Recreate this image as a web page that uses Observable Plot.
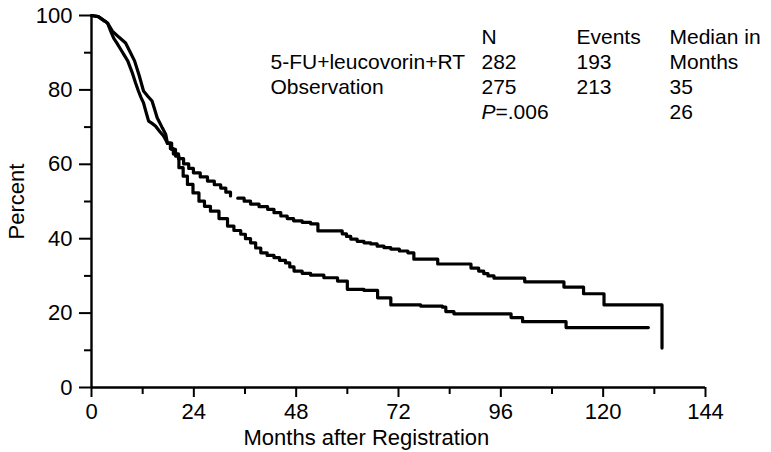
<!DOCTYPE html>
<html>
<head>
<meta charset="utf-8">
<script src="https://cdn.jsdelivr.net/npm/d3@7"></script>
<script src="https://cdn.jsdelivr.net/npm/@observablehq/plot@0.6"></script>
<style>
html, body { margin: 0; padding: 0; background: #fff; }
#chart { width: 771px; height: 452px; }
</style>
</head>
<body>
<div id="chart"></div>
<script>
// Kaplan-Meier curves: [months, percent]; null marks a break in the drawn line
const crtCurve = [
  [0,100],[1.6,99.7],[3.1,98.5],[3.8,97.9],[4.5,95.8],[5.2,93.9],[6.0,92.5],[6.8,91.0],[7.6,89.5],
  [8.5,87.8],[9.1,86.0],[9.6,84.5],[10.3,82.0],[11.0,79.7],[11.6,78.0],[12.2,76.5],[12.8,74.0],
  [13.4,71.6],[14.2,71.0],[15.0,70.3],[16.0,68.8],[16.9,67.6],[17.8,65.7],[18.5,64.2],[19.2,62.8],
  [20.4,61.5],[21.6,60.1],[22.8,58.9],[23.9,57.7],[25.5,56.6],[27.2,55.5],[28.8,54.5],[30.3,53.6],
  [31.5,52.5],[32.6,51.5],[null,null],[34.3,50.9],[35.8,50.1],[37.3,49.3],[39.3,48.6],[41.3,47.9],
  [42.8,47.0],[44.4,46.1],[45.9,45.4],[47.4,44.8],[49.4,44.4],[51.4,44.0],[53.1,42.1],[57.7,42.1],
  [58.8,41.3],[59.8,40.6],[60.8,39.9],[62.3,39.3],[63.9,38.9],[65.5,38.6],[67.0,38.0],[68.6,37.6],
  [70.2,37.2],[72.2,36.7],[74.2,36.2],[75.6,34.5],[81.2,33.2],[89.0,32.1],[90.8,31.3],[92.0,30.6],
  [93.0,30.0],[94.4,29.4],[101.6,28.4],[110.8,27.0],[115.4,25.2],[120.2,22.2],[133.8,10.6]
];
const obsCurve = [
  [0,100],[1.6,99.7],[3.1,98.5],[3.8,97.9],[4.9,95.8],[6.4,94.2],[8.0,92.6],[9.0,90.3],[10.1,87.8],
  [11.2,83.8],[12.2,79.7],[13.2,78.3],[14.2,77.0],[14.8,74.8],[15.4,72.5],[16.0,71.2],[16.6,69.8],
  [17.4,68.1],[17.8,65.7],[18.8,64.0],[19.7,62.2],[20.5,59.1],[21.5,56.8],[22.5,54.6],[23.8,52.3],
  [25.2,50.1],[26.5,48.7],[27.9,47.4],[29.9,45.4],[31.9,43.4],[33.4,42.2],[35.0,41.2],[36.1,40.0],
  [37.3,38.9],[38.5,37.5],[39.7,36.2],[41.2,35.5],[42.8,34.9],[44.1,34.2],[45.5,33.5],[46.5,32.4],
  [47.5,31.3],[49.4,30.7],[51.4,30.2],[54.5,29.5],[57.7,28.6],[60.0,26.4],[63.9,26.1],[67.1,24.1],
  [70.2,22.2],[77.2,21.9],[82.3,21.6],[83.1,20.4],[85.0,19.8],[98.4,18.8],[101.1,17.7],[111.3,16.1],
  [130.6,16.1]
];
// the steep first months are drawn as a continuous trace, the rest as steps
const earlyEnd = 17.8;

const xMajorTicks = [0, 24, 48, 72, 96, 120, 144];
const xMinorTicks = [12, 36, 60, 84, 108, 132];
const yMajorTicks = [0, 20, 40, 60, 80, 100];
const yMinorTicks = [10, 30, 50, 70, 90];

const xTitle = "Months after Registration";
const yTitle = "Percent";

const legendHeader = ["N", "Events", "Median in"];
const groupNames = ["5-FU+leucovorin+RT", "Observation"];
const groupN = ["282", "275"];
const groupEvents = ["193", "213"];
const medianColumn = ["Months", "35", "26"];
const pLabel = "P";
const pValue = "=.006";

// ---- layout (screen pixels) ----
const W = 771, H = 452;
const mL = 91, mR = 66, mT = 15, mB = 65;
const font = "'Liberation Sans', Arial, Helvetica, sans-serif";
const colX = [270, 481, 576, 669];
const rowY = [37, 62, 87, 112];

const toRows = c => c.map(([m, p]) => ({m, p}));
const early = c => toRows(c.filter(([m]) => m !== null && m <= earlyEnd));
const late = c => toRows(c.filter(([m], i) => m === null || m >= earlyEnd));

const cells = [];
legendHeader.forEach((t, i) => cells.push({t, c: i + 1, r: 0}));
groupNames.forEach((g, i) => {
  cells.push({t: g, c: 0, r: i + 1});
  cells.push({t: groupN[i], c: 1, r: i + 1});
  cells.push({t: groupEvents[i], c: 2, r: i + 1});
});
medianColumn.forEach((t, i) => cells.push({t, c: 3, r: i + 1}));

const legendMarks = cells.map(c => Plot.text([c.t], {
  text: d => d, frameAnchor: "top-left", dx: colX[c.c] - mL, dy: rowY[c.r] - mT,
  textAnchor: "start", lineAnchor: "middle", fontSize: 21
}));
legendMarks.push(Plot.text([pLabel], {
  text: d => d, frameAnchor: "top-left", dx: colX[1] - mL, dy: rowY[3] - mT,
  textAnchor: "start", lineAnchor: "middle", fontSize: 21, fontStyle: "italic"
}));
legendMarks.push(Plot.text([pValue], {
  text: d => d, frameAnchor: "top-left", dx: colX[1] - mL + 14, dy: rowY[3] - mT,
  textAnchor: "start", lineAnchor: "middle", fontSize: 21
}));

const lineStyle = {x: "m", y: "p", stroke: "#000", strokeWidth: 3.2};

const chart = Plot.plot({
  width: W, height: H,
  marginLeft: mL, marginRight: mR, marginTop: mT, marginBottom: mB,
  style: {fontFamily: font, fontSize: "22px", color: "#000", background: "#fff"},
  x: {domain: [0, 144], label: null},
  y: {domain: [0, 100], label: null},
  marks: [
    Plot.axisY({ticks: yMajorTicks, tickSize: 12, tickPadding: 7, fontSize: 22, strokeWidth: 2, label: null}),
    Plot.axisY({ticks: yMinorTicks, tickSize: 7, tickFormat: () => "", strokeWidth: 2, label: null}),
    Plot.axisX({ticks: xMajorTicks, tickSize: 10, tickPadding: 6, fontSize: 22, strokeWidth: 2, label: null}),
    Plot.axisX({ticks: xMinorTicks, tickSize: 7, tickFormat: () => "", strokeWidth: 2, label: null}),
    Plot.ruleX([0], {strokeWidth: 2.4}),
    Plot.ruleY([0], {strokeWidth: 2.4}),
    Plot.line(early(crtCurve), {...lineStyle, curve: "linear"}),
    Plot.line(late(crtCurve), {...lineStyle, curve: "step-after"}),
    Plot.line(early(obsCurve), {...lineStyle, curve: "linear"}),
    Plot.line(late(obsCurve), {...lineStyle, curve: "step-after"}),
    Plot.text([xTitle], {text: d => d, frameAnchor: "bottom", dx: 243 - (mL + (W - mL - mR) / 2), dy: 50,
      textAnchor: "start", lineAnchor: "middle", fontSize: 22}),
    Plot.text([yTitle], {text: d => d, frameAnchor: "left", dx: 16 - mL, rotate: -90,
      textAnchor: "middle", lineAnchor: "middle", fontSize: 22}),
    ...legendMarks
  ]
});
document.getElementById("chart").appendChild(chart);
</script>
</body>
</html>
